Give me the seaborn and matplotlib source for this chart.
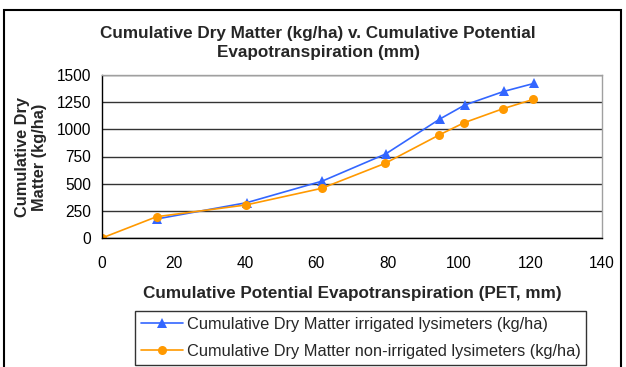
import matplotlib
matplotlib.use("Agg")
import matplotlib.pyplot as plt
import seaborn as sns
import pandas as pd
from matplotlib.patches import Rectangle

pet_irrigated = [15.3, 40.5, 61.7, 79.4, 94.6, 101.6, 112.5, 121.0]
dm_irrigated = [175, 325, 524, 773, 1095, 1224, 1349, 1423]
pet_nonirr = [0, 15.3, 40.3, 61.5, 79.2, 94.4, 101.4, 112.3, 120.8]
dm_nonirr = [0, 196, 304, 457, 686, 948, 1061, 1190, 1276]
label_irr = "Cumulative Dry Matter irrigated lysimeters (kg/ha)"
label_non = "Cumulative Dry Matter non-irrigated lysimeters (kg/ha)"
x_ticks = [0, 20, 40, 60, 80, 100, 120, 140]
y_ticks = [0, 250, 500, 750, 1000, 1250, 1500]

df = pd.concat([
    pd.DataFrame({"PET": pet_irrigated, "DM": dm_irrigated, "Series": label_irr}),
    pd.DataFrame({"PET": pet_nonirr, "DM": dm_nonirr, "Series": label_non}),
], ignore_index=True)

sns.set_style("white")
plt.rcParams['font.family'] = ['Liberation Sans', 'DejaVu Sans']

W, H = 626, 367
fig = plt.figure(figsize=(W / 100, H / 100), dpi=100)
ax = fig.add_axes([102 / W, 1 - 238 / H, (602 - 102) / W, (238 - 75) / H])

palette = {label_irr: "#3366FF", label_non: "#FF9900"}
markers = {label_irr: "^", label_non: "o"}
sns.lineplot(data=df, x="PET", y="DM", hue="Series", style="Series",
             palette=palette, markers=markers, dashes=False, sort=False,
             markersize=6.5, markeredgewidth=0, linewidth=1.2, ax=ax, legend=True)

ax.set_xlim(0, 140)
ax.set_ylim(0, 1500)
ax.set_xticks(x_ticks)
ax.set_yticks(y_ticks)
ax.tick_params(axis="both", direction="out", length=5, width=1, colors="black",
               labelsize=11.2, pad=3)
ax.tick_params(axis="x", pad=8)
ax.yaxis.grid(True, color="#333333", linewidth=1)
ax.xaxis.grid(False)
ax.set_axisbelow(True)
for s in ["left", "bottom"]:
    ax.spines[s].set_color("black")
    ax.spines[s].set_linewidth(1)
for s in ["top", "right"]:
    ax.spines[s].set_color("#A0A0A0")
    ax.spines[s].set_linewidth(1)

ax.set_xlabel("Cumulative Potential Evapotranspiration (PET, mm)", fontsize=12.3,
              fontweight="bold", labelpad=11)
ax.set_ylabel("")
fig.text(31 / W, 1 - 157 / H, "Cumulative Dry\nMatter (kg/ha)", rotation=90,
         ha="center", va="center", fontsize=11.8, fontweight="bold", linespacing=1.15)
fig.text(318 / W, 1 - 43 / H,
         "Cumulative Dry Matter (kg/ha) v. Cumulative Potential\nEvapotranspiration (mm)",
         ha="center", va="center", fontsize=12.3, fontweight="bold", linespacing=1.4)

handles, labels = ax.get_legend_handles_labels()
leg = ax.legend(handles, labels, loc="upper left",
                bbox_to_anchor=(135 / W, 1 - 311 / H), bbox_transform=fig.transFigure,
                frameon=True, fancybox=False, fontsize=11.8, handlelength=2.6,
                handletextpad=0.2, borderpad=0.35, labelspacing=0.75, borderaxespad=0)
leg.get_frame().set_edgecolor("black")
leg.get_frame().set_linewidth(1)

fig.patches.append(Rectangle((3.5 / W, -0.1), (621 - 3.5) / W, 1.1 - 10.5 / H,
                             transform=fig.transFigure, fill=False,
                             edgecolor="black", linewidth=1.5))

fig.savefig("out.png", dpi=100)
